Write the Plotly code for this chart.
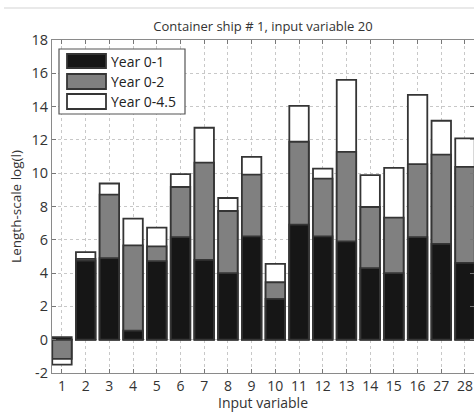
import plotly.graph_objects as go

# Input variables shown on the x axis
categories = ["1", "2", "3", "4", "5", "6", "7", "8", "9", "10",
              "11", "12", "13", "14", "15", "16", "27", "28"]

# Length-scale log(l) per training window
year_0_1 = [0.15, 4.75, 4.9, 0.54, 4.72, 6.16, 4.8, 4.0, 6.2, 2.45,
            6.91, 6.2, 5.9, 4.3, 4.0, 6.16, 5.76, 4.62]
year_0_2 = [-1.15, 4.85, 8.71, 5.66, 5.6, 9.17, 10.64, 7.73, 9.92, 3.45,
            11.89, 9.68, 11.28, 7.97, 7.33, 10.54, 11.12, 10.38]
year_0_45 = [-1.5, 5.26, 9.38, 7.27, 6.73, 9.94, 12.73, 8.51, 10.98, 4.56,
             14.04, 10.28, 15.6, 9.88, 10.32, 14.7, 13.15, 12.09]

y_ticks = list(range(-2, 19, 2))
y_tick_text = [str(v) for v in y_ticks]

FONT = "Open Sans"
EDGE = "#353535"
fills = {"Year 0-1": "#161616", "Year 0-2": "#808080", "Year 0-4.5": "#ffffff"}

pos = list(range(1, len(categories) + 1))

fig = go.Figure()
# Longest window first so the shorter ones sit in front of it
for name, vals in [("Year 0-4.5", year_0_45), ("Year 0-2", year_0_2), ("Year 0-1", year_0_1)]:
    fig.add_trace(go.Bar(
        x=pos, y=vals, name=name, width=0.82,
        marker=dict(color=fills[name], line=dict(color=EDGE, width=1.8)),
        showlegend=False,
    ))

# Plot area geometry in pixels, used to place the legend box
W, H = 474, 412
ML, MR, MT, MB = 52, 0, 40, 39
PW, PH = W - ML - MR, H - MT - MB


def px_x(px):
    return (px - ML) / PW


def px_y(py):
    return (H - MB - py) / PH


shapes = []
annotations = []

# Legend frame
shapes.append(dict(type="rect", xref="paper", yref="paper",
                   x0=px_x(59), x1=px_x(185), y0=px_y(114), y1=px_y(49),
                   fillcolor="white", line=dict(color="#555555", width=1.2), layer="above"))
rows = [("Year 0-1", 54, 68), ("Year 0-2", 74, 89), ("Year 0-4.5", 94, 109)]
for name, t, b in rows:
    shapes.append(dict(type="rect", xref="paper", yref="paper",
                       x0=px_x(67), x1=px_x(106), y0=px_y(b), y1=px_y(t),
                       fillcolor=fills[name], line=dict(color=EDGE, width=1.8), layer="above"))
    annotations.append(dict(text=name, xref="paper", yref="paper",
                            x=px_x(109), y=px_y((t + b) / 2), xanchor="left", yanchor="middle",
                            showarrow=False, font=dict(family=FONT, size=14, color="#222222")))

# Faint border line along the top of the figure
shapes.append(dict(type="line", xref="paper", yref="paper",
                   x0=px_x(4), x1=px_x(474), y0=px_y(8), y1=px_y(8),
                   line=dict(color="#e2e2e2", width=1.5)))

fig.update_layout(
    width=W, height=H,
    margin=dict(l=ML, r=MR, t=MT, b=MB),
    paper_bgcolor="white", plot_bgcolor="white",
    barmode="overlay",
    title=dict(text="Container ship # 1, input variable 20", x=(ML + PW / 2) / W, xanchor="center",
               y=1 - 26 / H, yanchor="middle",
               font=dict(family=FONT, size=13, color="#333333")),
    font=dict(family=FONT, size=13, color="#333333"),
    shapes=shapes, annotations=annotations,
)

fig.update_xaxes(
    range=[0.58, 18.38], tickmode="array", tickvals=pos, ticktext=categories,
    ticks="inside", ticklen=4, tickcolor="#777777", mirror="ticks",
    showline=True, linecolor="#8a8a8a", linewidth=1.2,
    showgrid=True, gridcolor="#c8c8c8", griddash="dot", gridwidth=1,
    zeroline=False,
    title=dict(text="Input variable", standoff=5, font=dict(family=FONT, size=14, color="#333333")),
    tickfont=dict(family=FONT, size=14, color="#333333"),
)
fig.update_yaxes(
    range=[-2, 18], tickmode="array", tickvals=y_ticks, ticktext=y_tick_text,
    ticks="inside", ticklen=4, tickcolor="#777777", mirror="ticks",
    showline=True, linecolor="#8a8a8a", linewidth=1.2,
    showgrid=True, gridcolor="#c8c8c8", griddash="dot", gridwidth=1,
    zeroline=False,
    title=dict(text="Length-scale log(l)", standoff=6, font=dict(family=FONT, size=13.5, color="#333333")),
    tickfont=dict(family=FONT, size=14.5, color="#333333"),
)

fig.write_html("out.html")
